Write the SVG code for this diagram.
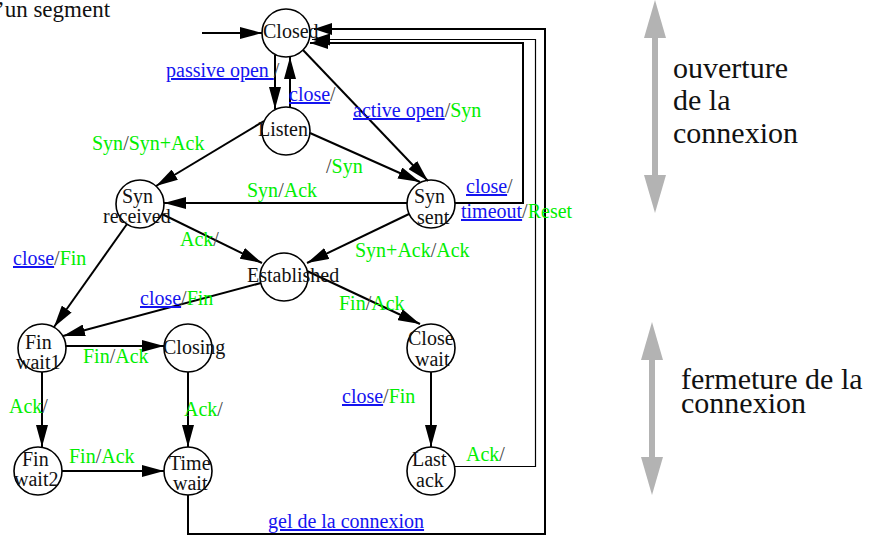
<svg xmlns="http://www.w3.org/2000/svg" width="878" height="537" viewBox="0 0 878 537">
<style>
text{font-family:"Liberation Serif","Times New Roman",serif;font-size:20px;fill:#111}
.b{fill:#1414f0;text-decoration:underline}
.g{fill:#00ee00}
.s{fill:#444}
.big{font-size:30px;fill:#111}
.n{fill:none;stroke:#000;stroke-width:1.6}
.c{fill:none;stroke:#000;stroke-width:2}
.t{fill:none;stroke:#000;stroke-width:1.2}
.gray{fill:#b3b3b3}
</style>
<defs>
<marker id="ah" markerWidth="22" markerHeight="12" refX="22" refY="6" orient="auto" markerUnits="userSpaceOnUse"><path d="M0,0 L22,6 L0,12 z" fill="#000"/></marker>
<marker id="ah2" markerWidth="18" markerHeight="12" refX="18" refY="6" orient="auto" markerUnits="userSpaceOnUse"><path d="M0,0 L18,6 L0,12 z" fill="#000"/></marker>
</defs>

<g id="connectors">
<path class="c" d="M202,33 L262,33" marker-end="url(#ah)"/>
<path class="c" d="M275,55 L275,109" marker-end="url(#ah)"/>
<path class="c" d="M290,107 L290,57" marker-end="url(#ah)"/>
<path class="c" d="M303,50 L428,181" marker-end="url(#ah)"/>
<path class="c" d="M310,133 L420,182" marker-end="url(#ah)"/>
<path class="c" d="M264,121 L156,186" marker-end="url(#ah)"/>
<path class="c" d="M407,203 L164,203" marker-end="url(#ah)"/>
<path class="c" d="M162,214 L262,263" marker-end="url(#ah)"/>
<path class="c" d="M409,214 L307,263" marker-end="url(#ah)"/>
<path class="c" d="M127,224 L54,327" marker-end="url(#ah)"/>
<path class="c" d="M261,283 L63,336" marker-end="url(#ah)"/>
<path class="c" d="M307,271 L420,324" marker-end="url(#ah)"/>
<path class="c" d="M66,346 L164,346" marker-end="url(#ah)"/>
<path class="c" d="M42,372 L42,447" marker-end="url(#ah)"/>
<path class="c" d="M188,372 L188,447" marker-end="url(#ah)"/>
<path class="c" d="M62,471 L164,471" marker-end="url(#ah)"/>
<path class="c" d="M431,372 L431,447" marker-end="url(#ah)"/>
<path class="c" d="M188,495 V534 H545 V29 H314" marker-end="url(#ah2)"/>
<path class="t" d="M455,466.5 H535.5 V39.5 H312" marker-end="url(#ah2)"/>
<path class="c" d="M455,203 H523 V43 H310" marker-end="url(#ah2)"/>
</g>

<g id="closed"><circle class="n" cx="286" cy="33" r="24"/><text x="263" y="38">Closed</text></g>
<g id="listen"><circle class="n" cx="286" cy="131" r="24"/><text x="258" y="136">Listen</text></g>
<g id="syn-received"><circle class="n" cx="140" cy="204" r="24"/><text x="122" y="203">Syn</text><text x="103" y="223">received</text></g>
<g id="syn-sent"><circle class="n" cx="431" cy="204" r="24"/><text x="414" y="203">Syn</text><text x="417" y="224">sent</text></g>
<g id="established"><circle class="n" cx="284" cy="277" r="24"/><text x="247" y="282">Established</text></g>
<g id="fin-wait1"><circle class="n" cx="42" cy="348" r="24"/><text x="25" y="349">Fin</text><text x="16" y="369">wait1</text></g>
<g id="closing"><circle class="n" cx="188" cy="348" r="24"/><text x="163" y="354">Closing</text></g>
<g id="close-wait"><circle class="n" cx="431" cy="348" r="24"/><text x="408" y="345">Close</text><text x="415" y="366">wait</text></g>
<g id="fin-wait2"><circle class="n" cx="38" cy="471" r="24"/><text x="22" y="466">Fin</text><text x="14" y="486">wait2</text></g>
<g id="time-wait"><circle class="n" cx="188" cy="471" r="24"/><text x="169" y="470">Time</text><text x="173" y="490">wait</text></g>
<g id="last-ack"><circle class="n" cx="431" cy="471" r="24"/><text x="412" y="466">Last</text><text x="416" y="487">ack</text></g>

<g id="labels">
<text x="166" y="77"><tspan class="b">passive open </tspan><tspan class="s">/</tspan></text>
<text x="289" y="101"><tspan class="b">close</tspan><tspan class="s">/</tspan></text>
<text x="353" y="117"><tspan class="b">active open</tspan><tspan class="s">/</tspan><tspan class="g">Syn</tspan></text>
<text x="92" y="150"><tspan class="g">Syn</tspan><tspan class="s">/</tspan><tspan class="g">Syn+Ack</tspan></text>
<text x="326" y="173"><tspan class="s">/</tspan><tspan class="g">Syn</tspan></text>
<text x="247" y="197"><tspan class="g">Syn</tspan><tspan class="s">/</tspan><tspan class="g">Ack</tspan></text>
<text x="466" y="193"><tspan class="b">close</tspan><tspan class="s">/</tspan></text>
<text x="461" y="218"><tspan class="b">timeout</tspan><tspan class="s">/</tspan><tspan class="g">Reset</tspan></text>
<text x="180" y="246"><tspan class="g">Ack</tspan><tspan class="s">/</tspan></text>
<text x="355" y="257"><tspan class="g">Syn+Ack</tspan><tspan class="s">/</tspan><tspan class="g">Ack</tspan></text>
<text x="13" y="265"><tspan class="b">close</tspan><tspan class="s">/</tspan><tspan class="g">Fin</tspan></text>
<text x="140" y="305"><tspan class="b">close</tspan><tspan class="s">/</tspan><tspan class="g">Fin</tspan></text>
<text x="339" y="310"><tspan class="g">Fin</tspan><tspan class="s">/</tspan><tspan class="g">Ack</tspan></text>
<text x="83" y="363"><tspan class="g">Fin</tspan><tspan class="s">/</tspan><tspan class="g">Ack</tspan></text>
<text x="9" y="413"><tspan class="g">Ack</tspan><tspan class="s">/</tspan></text>
<text x="184" y="416"><tspan class="g">Ack</tspan><tspan class="s">/</tspan></text>
<text x="69" y="463"><tspan class="g">Fin</tspan><tspan class="s">/</tspan><tspan class="g">Ack</tspan></text>
<text x="342" y="403"><tspan class="b">close</tspan><tspan class="s">/</tspan><tspan class="g">Fin</tspan></text>
<text x="466" y="461"><tspan class="g">Ack</tspan><tspan class="s">/</tspan></text>
<text x="268" y="528"><tspan class="b">gel de la connexion</tspan></text>
</g>

<g id="title"><text x="-3" y="17" style="font-size:23px">’un segment</text></g>

<g id="phase-open">
<rect class="gray" x="652" y="36" width="6" height="141"/>
<polygon class="gray" points="655,0 666,38 644,38"/>
<polygon class="gray" points="655,213 666,175 644,175"/>
<text class="big" x="673" y="78">ouverture</text>
<text class="big" x="673" y="110">de la</text>
<text class="big" x="673" y="143">connexion</text>
</g>
<g id="phase-close">
<rect class="gray" x="649" y="358" width="6" height="101"/>
<polygon class="gray" points="652,322 663,360 641,360"/>
<polygon class="gray" points="652,495 663,457 641,457"/>
<text class="big" x="681" y="389">fermeture de la</text>
<text class="big" x="681" y="413">connexion</text>
</g>
</svg>
